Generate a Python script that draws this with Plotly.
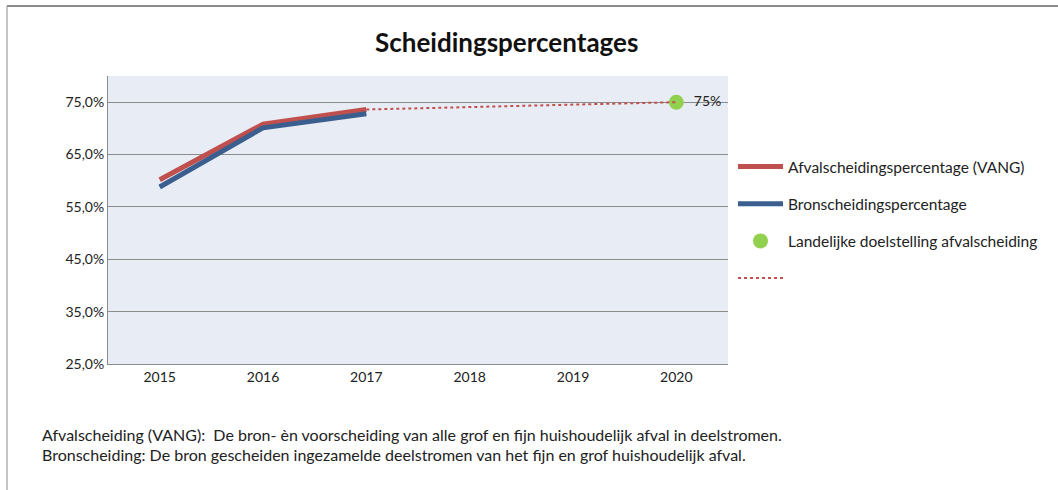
import plotly.graph_objects as go

years = ["2015", "2016", "2017", "2018", "2019", "2020"]
afval_vang = [60.2, 70.8, 73.6, None, None, None]
bron = [58.8, 70.1, 72.8, None, None, None]
doel = [None, None, None, None, None, 75.0]
trend = [None, None, 73.6, None, None, 75.0]
y_ticks = [25, 35, 45, 55, 65, 75]
y_tick_labels = ["25,0%", "35,0%", "45,0%", "55,0%", "65,0%", "75,0%"]
doel_labels = ["", "", "", "", "", "  75%"]

W, H = 1058, 490
L, R, T, B = 108, 728, 76, 364

def px(x):
    return (x - L) / (R - L)

def py(y):
    return (B - y) / (B - T)

font = "Lato, 'Open Sans', sans-serif"

fig = go.Figure()
fig.add_trace(go.Scatter(x=years, y=afval_vang, mode="lines", name="Afvalscheidingspercentage (VANG)",
                         line=dict(color="#C0504D", width=5), legendgroup="a"))
fig.add_trace(go.Scatter(x=years, y=bron, mode="lines", name="Bronscheidingspercentage",
                         line=dict(color="#3A5F8F", width=5), legendgroup="b"))
fig.add_trace(go.Scatter(x=years, y=doel, mode="markers+text", name="Landelijke doelstelling afvalscheiding",
                         marker=dict(color="#92D050", size=15),
                         text=doel_labels, textposition="middle right",
                         textfont=dict(size=14, color="#222"), legendgroup="c"))
fig.add_trace(go.Scatter(x=years, y=trend, mode="lines", name=" ", connectgaps=True,
                         line=dict(color="#C0504D", width=2, dash="dot"), legendgroup="d"))

fig.update_layout(
    width=W, height=H,
    margin=dict(l=L, r=W - R, t=T, b=H - B, autoexpand=False),
    paper_bgcolor="white", plot_bgcolor="#E8ECF4",
    font=dict(family=font, size=14, color="#222"),
    showlegend=True,
    legend=dict(x=px(733), y=py(150), xanchor="left", yanchor="top",
                traceorder="grouped", tracegroupgap=14, itemwidth=45,
                font=dict(size=15.5, color="#222"), bgcolor="rgba(0,0,0,0)"),
    xaxis=dict(type="category", range=[-0.5, 5.5], showgrid=False, showline=True,
               linecolor="#8c8c8c", linewidth=1, ticks="", tickfont=dict(size=14), fixedrange=True),
    yaxis=dict(range=[25, 80], tickvals=y_ticks, ticktext=y_tick_labels,
               showgrid=True, gridcolor="#8c8c8c", gridwidth=1, showline=True,
               linecolor="#8c8c8c", linewidth=1, zeroline=False, ticks="",
               tickfont=dict(size=14), fixedrange=True),
)

fig.add_annotation(text="<b>Scheidingspercentages</b>", x=px(506), y=py(42), xref="paper", yref="paper",
                   showarrow=False, font=dict(size=26, color="#111"), xanchor="center", yanchor="middle")
fig.add_annotation(text="Afvalscheiding (VANG):  De bron- èn voorscheiding van alle grof en fijn huishoudelijk afval in deelstromen.",
                   x=px(40), y=py(434), xref="paper", yref="paper", showarrow=False,
                   xanchor="left", yanchor="middle", font=dict(size=16, color="#222"))
fig.add_annotation(text="Bronscheiding: De bron gescheiden ingezamelde deelstromen van het fijn en grof huishoudelijk afval.",
                   x=px(40), y=py(454), xref="paper", yref="paper", showarrow=False,
                   xanchor="left", yanchor="middle", font=dict(size=16, color="#222"))

# outer chart frame (top and left edges visible)
fig.add_shape(type="line", xref="paper", yref="paper", x0=px(7), x1=px(1058), y0=py(6), y1=py(6),
              line=dict(color="#8c8c8c", width=2))
fig.add_shape(type="line", xref="paper", yref="paper", x0=px(7), x1=px(7), y0=py(6), y1=py(490),
              line=dict(color="#8c8c8c", width=1))

fig.write_html("out.html", config={"displayModeBar": False},
               post_script="document.body.style.margin='0';")
